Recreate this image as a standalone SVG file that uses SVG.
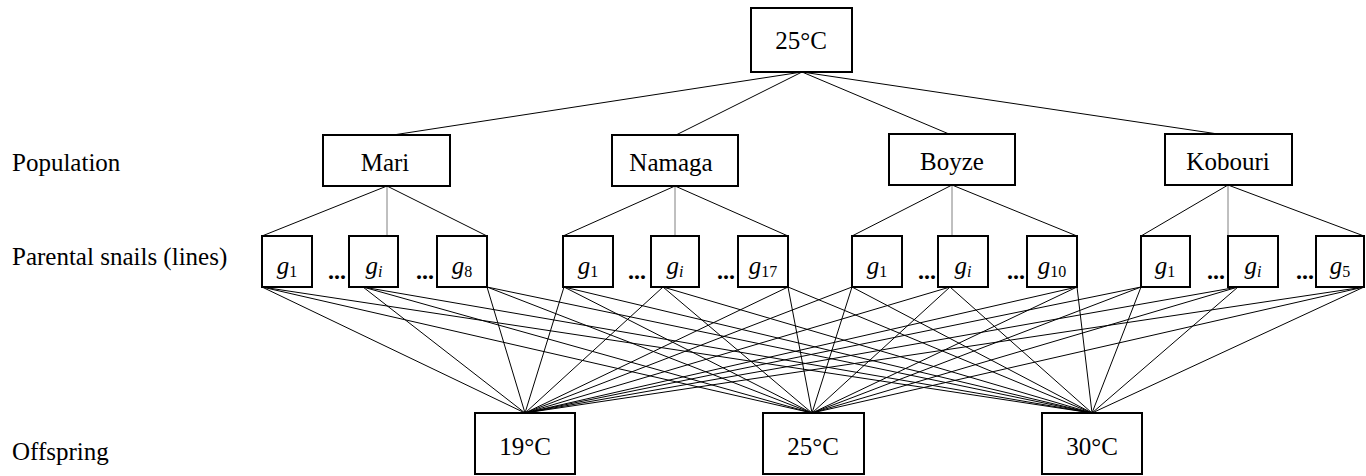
<svg xmlns="http://www.w3.org/2000/svg" width="1366" height="476" viewBox="0 0 1366 476">
  <style>
    .box { fill: #fff; stroke: #000; stroke-width: 2; }
    .edge { stroke: #000; stroke-width: 1; fill: none; }
    .stem { stroke: #808080; stroke-width: 1; fill: none; }
    .lbl { font-family: "Liberation Serif", "Times New Roman", serif; font-size: 25px; fill: #000; }
    .mid { text-anchor: middle; }
    .g { font-family: "Liberation Serif", "Times New Roman", serif; font-size: 25px; font-style: italic; fill: #000; text-anchor: middle; }
    .sub { font-size: 16px; font-style: normal; }
    .subi { font-size: 16px; font-style: italic; }
    .dots { font-family: "Liberation Serif", "Times New Roman", serif; font-size: 24px; font-weight: bold; fill: #000; }
  </style>

  <!-- row labels -->
  <g id="row-labels">
    <text class="lbl" x="12" y="171">Population</text>
    <text class="lbl" x="12" y="265">Parental snails (lines)</text>
    <text class="lbl" x="12" y="460">Offspring</text>
  </g>

  <!-- connectors -->
  <g id="connectors">
    <!-- rearing temperature to populations -->
    <line class="edge" x1="802" y1="72" x2="393" y2="135"/>
    <line class="edge" x1="802" y1="72" x2="676" y2="135"/>
    <line class="edge" x1="802" y1="72" x2="949" y2="134"/>
    <line class="edge" x1="802" y1="72" x2="1218" y2="134"/>

    <!-- populations to parental lines -->
    <line class="edge" x1="387" y1="186" x2="262" y2="236"/>
    <line class="stem" x1="387" y1="186" x2="387" y2="236"/>
    <line class="edge" x1="387" y1="186" x2="487" y2="236"/>

    <line class="edge" x1="675" y1="186" x2="563" y2="236"/>
    <line class="stem" x1="675" y1="186" x2="675" y2="236"/>
    <line class="edge" x1="675" y1="186" x2="788" y2="236"/>

    <line class="edge" x1="952" y1="185" x2="852" y2="236"/>
    <line class="stem" x1="952" y1="185" x2="952" y2="236"/>
    <line class="edge" x1="952" y1="185" x2="1077" y2="236"/>

    <line class="edge" x1="1228" y1="185" x2="1141" y2="236"/>
    <line class="stem" x1="1228" y1="185" x2="1228" y2="236"/>
    <line class="edge" x1="1228" y1="185" x2="1364" y2="236"/>

    <!-- parental lines to offspring temperatures -->
    <path class="edge" d="
      M262,287 L525,413 M262,287 L812,413 M262,287 L1092,413
      M363,287 L525,413 M363,287 L812,413 M363,287 L1092,413
      M487,287 L525,413 M487,287 L812,413 M487,287 L1092,413
      M564,287 L525,413 M564,287 L812,413 M564,287 L1092,413
      M663,287 L525,413 M663,287 L812,413 M663,287 L1092,413
      M788,287 L525,413 M788,287 L812,413 M788,287 L1092,413
      M852,287 L525,413 M852,287 L812,413 M852,287 L1092,413
      M950,287 L525,413 M950,287 L812,413 M950,287 L1092,413
      M1077,287 L525,413 M1077,287 L812,413 M1077,287 L1092,413
      M1141,287 L525,413 M1141,287 L812,413 M1141,287 L1092,413
      M1238,287 L525,413 M1238,287 L812,413 M1238,287 L1092,413
      M1364,287 L525,413 M1364,287 L812,413 M1364,287 L1092,413"/>
  </g>

  <!-- parental rearing temperature -->
  <g id="parent-temp">
    <rect class="box" x="751" y="8" width="101" height="64"/>
    <text class="lbl mid" x="801" y="49">25°C</text>
  </g>

  <!-- populations -->
  <g id="pop-mari">
    <rect class="box" x="323" y="135" width="127" height="51"/>
    <text class="lbl mid" x="385" y="171">Mari</text>
  </g>
  <g id="pop-namaga">
    <rect class="box" x="612" y="135" width="126" height="51"/>
    <text class="lbl mid" x="671" y="171">Namaga</text>
  </g>
  <g id="pop-boyze">
    <rect class="box" x="889" y="134" width="126" height="51"/>
    <text class="lbl mid" x="952" y="170">Boyze</text>
  </g>
  <g id="pop-kobouri">
    <rect class="box" x="1165" y="134" width="127" height="51"/>
    <text class="lbl mid" x="1228" y="170">Kobouri</text>
  </g>

  <!-- parental lines: Mari -->
  <g id="mari-g1">
    <rect class="box" x="262" y="236" width="50" height="51"/>
    <text class="g" x="287" y="274">g<tspan class="sub" dy="3">1</tspan></text>
  </g>
  <text class="dots" x="328" y="279">...</text>
  <g id="mari-gi">
    <rect class="box" x="349" y="236" width="49" height="51"/>
    <text class="g" x="374" y="274">g<tspan class="subi" dy="3">i</tspan></text>
  </g>
  <text class="dots" x="416" y="279">...</text>
  <g id="mari-g8">
    <rect class="box" x="437" y="236" width="50" height="51"/>
    <text class="g" x="462" y="274">g<tspan class="sub" dy="3">8</tspan></text>
  </g>

  <!-- parental lines: Namaga -->
  <g id="namaga-g1">
    <rect class="box" x="563" y="236" width="50" height="51"/>
    <text class="g" x="588" y="274">g<tspan class="sub" dy="3">1</tspan></text>
  </g>
  <text class="dots" x="628" y="279">...</text>
  <g id="namaga-gi">
    <rect class="box" x="651" y="236" width="48" height="51"/>
    <text class="g" x="675" y="274">g<tspan class="subi" dy="3">i</tspan></text>
  </g>
  <text class="dots" x="717" y="279">...</text>
  <g id="namaga-g17">
    <rect class="box" x="738" y="236" width="50" height="51"/>
    <text class="g" x="763" y="274">g<tspan class="sub" dy="3">17</tspan></text>
  </g>

  <!-- parental lines: Boyze -->
  <g id="boyze-g1">
    <rect class="box" x="852" y="236" width="50" height="51"/>
    <text class="g" x="877" y="274">g<tspan class="sub" dy="3">1</tspan></text>
  </g>
  <text class="dots" x="918" y="279">...</text>
  <g id="boyze-gi">
    <rect class="box" x="938" y="236" width="50" height="51"/>
    <text class="g" x="963" y="274">g<tspan class="subi" dy="3">i</tspan></text>
  </g>
  <text class="dots" x="1007" y="279">...</text>
  <g id="boyze-g10">
    <rect class="box" x="1027" y="236" width="50" height="51"/>
    <text class="g" x="1052" y="274">g<tspan class="sub" dy="3">10</tspan></text>
  </g>

  <!-- parental lines: Kobouri -->
  <g id="kobouri-g1">
    <rect class="box" x="1141" y="236" width="49" height="51"/>
    <text class="g" x="1165" y="274">g<tspan class="sub" dy="3">1</tspan></text>
  </g>
  <text class="dots" x="1207" y="279">...</text>
  <g id="kobouri-gi">
    <rect class="box" x="1228" y="236" width="50" height="51"/>
    <text class="g" x="1253" y="274">g<tspan class="subi" dy="3">i</tspan></text>
  </g>
  <text class="dots" x="1296" y="279">...</text>
  <g id="kobouri-g5">
    <rect class="box" x="1316" y="236" width="48" height="51"/>
    <text class="g" x="1340" y="274">g<tspan class="sub" dy="3">5</tspan></text>
  </g>

  <!-- offspring temperatures -->
  <g id="off-19">
    <rect class="box" x="475" y="413" width="100" height="61"/>
    <text class="lbl mid" x="525" y="455">19°C</text>
  </g>
  <g id="off-25">
    <rect class="box" x="763" y="413" width="101" height="61"/>
    <text class="lbl mid" x="813" y="455">25°C</text>
  </g>
  <g id="off-30">
    <rect class="box" x="1042" y="413" width="100" height="61"/>
    <text class="lbl mid" x="1092" y="455">30°C</text>
  </g>
</svg>
